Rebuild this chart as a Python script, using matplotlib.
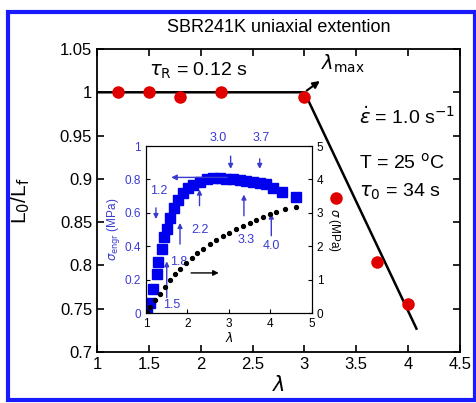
import numpy as np
import matplotlib
matplotlib.use("Agg")
import matplotlib.pyplot as plt
from matplotlib.patches import Rectangle
from matplotlib.ticker import FuncFormatter

plt.rcParams['font.family'] = ['Liberation Sans', 'DejaVu Sans']
plt.rcParams['mathtext.fontset'] = 'dejavusans'

# main plot data: L0/Lf vs stretch ratio
lam = [1.2, 1.5, 1.8, 2.2, 3.0, 3.3, 3.7, 4.0]
ratio = [1.0, 1.0, 0.994, 1.0, 0.994, 0.878, 0.804, 0.756]
guide_x = [1.0, 3.0, 4.08]
guide_y = [1.0, 1.0, 0.727]

# inset: engineering stress (left) and true stress (right)
lam_engr = [1.02, 1.1, 1.18, 1.26, 1.3, 1.38, 1.44, 1.5, 1.58, 1.68, 1.78, 1.9,
            2.02, 2.14, 2.3, 2.46, 2.62, 2.78, 2.94, 3.1, 3.26, 3.42, 3.58,
            3.74, 3.9, 4.06, 4.28, 4.62]
s_engr = [0.006, 0.06, 0.146, 0.236, 0.306, 0.386, 0.456, 0.506, 0.566, 0.626,
          0.676, 0.716, 0.746, 0.766, 0.786, 0.8, 0.806, 0.806, 0.804, 0.802,
          0.796, 0.79, 0.786, 0.78, 0.77, 0.746, 0.726, 0.696]
lam_true = [1.02, 1.1, 1.22, 1.34, 1.46, 1.58, 1.7, 1.82, 1.97, 2.1, 2.24, 2.38,
            2.54, 2.69, 2.85, 3.0, 3.18, 3.34, 3.5, 3.66, 3.82, 3.98, 4.14,
            4.34, 4.62]
s_true = [0.03, 0.18, 0.38, 0.58, 0.78, 0.98, 1.16, 1.33, 1.5, 1.66, 1.8, 1.93,
          2.06, 2.18, 2.3, 2.4, 2.51, 2.6, 2.7, 2.78, 2.88, 2.95, 3.03, 3.1, 3.16]

# arrow labels in inset: (label, text x, text y, arrow x, y start, y end)
marks = [("1.2", 1.3, 0.73, 1.24, 0.646, 0.546),
         ("1.5", 1.62, 0.05, 1.5, 0.076, 0.326),
         ("1.8", 1.78, 0.306, 1.82, 0.396, 0.556),
         ("2.2", 2.3, 0.496, 2.29, 0.626, 0.756),
         ("3.0", 2.74, 1.05, 3.04, 0.956, 0.846),
         ("3.7", 3.78, 1.05, 3.74, 0.94, 0.846),
         ("3.3", 3.42, 0.436, 3.36, 0.566, 0.726),
         ("4.0", 4.02, 0.40, 4.02, 0.446, 0.612)]

blue = '#1a1aff'
tblue = '#3a3ad0'
fmt = FuncFormatter(lambda v, p: '%g' % round(v, 3))

fig = plt.figure(figsize=(4.76, 4.03), dpi=100)
fig.patches.append(Rectangle((0.0168, 0.0074), 0.981, 0.963, transform=fig.transFigure,
                             fill=False, edgecolor=blue, lw=3))

ax = fig.add_axes([0.2038, 0.1266, 0.7626, 0.7518])
ax.plot(guide_x, guide_y, color='black', lw=1.8, zorder=2)
ax.plot(lam, ratio, 'o', color='#e00000', ms=8, zorder=3)
ax.annotate('', xy=(3.17, 1.015), xytext=(3.0, 1.0),
            arrowprops=dict(arrowstyle='-|>', color='black', lw=1.5, mutation_scale=10))
ax.text(3.16, 1.02, r'$\lambda_{\rm max}$', fontsize=14, va='bottom', ha='left')
ax.text(1.5, 1.025, r'$\tau_{\rm R}$ = 0.12 s', fontsize=14, va='center')
ax.text(3.53, 0.972, r'$\dot{\varepsilon}$ = 1.0 s$^{-1}$', fontsize=14, va='center')
ax.text(3.53, 0.919, r'T = 25 $^{\rm o}$C', fontsize=14, va='center')
ax.text(3.53, 0.885, r'$\tau_0$ = 34 s', fontsize=14, va='center')

ax.set_xlim(1, 4.5)
ax.set_ylim(0.7, 1.05)
ax.set_xticks(np.arange(1, 4.51, 0.5))
ax.set_yticks(np.arange(0.7, 1.051, 0.05))
ax.xaxis.set_major_formatter(fmt)
ax.yaxis.set_major_formatter(fmt)
ax.tick_params(direction='in', top=True, right=True, labelsize=12, length=5, width=1.2)
for s in ax.spines.values():
    s.set_linewidth(1.3)
ax.set_xlabel(r'$\lambda$', fontsize=15, labelpad=2)
ax.set_ylabel(r'L$_0$/L$_{\rm f}$', fontsize=15)
ax.yaxis.set_label_coords(-0.18, 0.5)
ax.set_title('SBR241K uniaxial extention', fontsize=13, pad=12)

# inset
ia = fig.add_axes([0.3067, 0.2233, 0.3487, 0.4144])
ia.plot(lam_engr, s_engr, 's', color='#0000ee', ms=6.5, zorder=3)
ia.set_xlim(1, 5)
ia.set_ylim(0, 1)
ia.set_xticks([1, 2, 3, 4, 5])
ia.set_yticks(np.arange(0, 1.01, 0.2))
ia.yaxis.set_major_formatter(fmt)
ia.tick_params(direction='in', labelsize=8.5, length=3)
ia.tick_params(axis='y', labelcolor=tblue)
ia.set_xlabel(r'$\lambda$', fontsize=9, labelpad=1)
ia.set_ylabel(r'$\sigma_{\rm engr}$ (MPa)', fontsize=8.5, color=tblue, labelpad=2)
for lbl, tx, ty, axx, y0, y1 in marks:
    ia.text(tx, ty, lbl, color=tblue, fontsize=9, ha='center', va='center', clip_on=False)
    ia.annotate('', xy=(axx, y1), xytext=(axx, y0), annotation_clip=False,
                arrowprops=dict(arrowstyle='-|>', color=tblue, lw=1, mutation_scale=7))
ia.annotate('', xy=(1.54, 0.812), xytext=(3.02, 0.812),
            arrowprops=dict(arrowstyle='-|>', color=tblue, lw=1, mutation_scale=8))

ib = ia.twinx()
ib.plot(lam_true, s_true, 'o', color='black', ms=2.8)
ib.set_ylim(0, 5)
ib.set_yticks([0, 1, 2, 3, 4, 5])
ib.tick_params(direction='in', labelsize=8.5, length=3)
ib.set_ylabel(r'$\sigma$ (MPa)', fontsize=8.5, rotation=270, labelpad=13)
ib.annotate('', xy=(2.82, 1.2), xytext=(2.02, 1.2),
            arrowprops=dict(arrowstyle='-|>', color='black', lw=1, mutation_scale=8))

fig.savefig('out.png', dpi=100)
